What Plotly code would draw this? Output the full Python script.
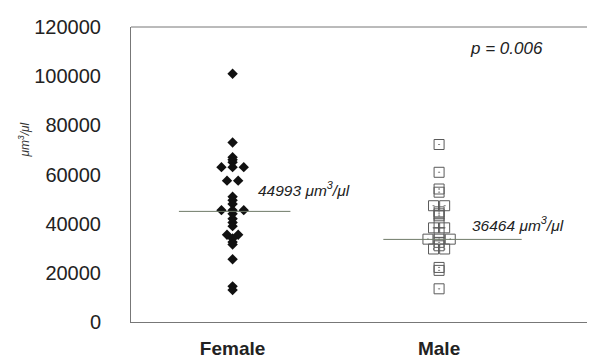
import plotly.graph_objects as go
from collections import Counter

# ---- data ----
categories = ["Female", "Male"]
female_values = [101000, 73000, 67000, 66000, 65000, 63000, 63000, 63000,
                 57500, 57500, 51000, 49500, 48000, 45500, 45500, 45500,
                 44000, 42000, 40500, 39000, 35500, 35500, 34000, 32500,
                 31500, 25500, 14500, 13000]
male_values = [72200, 60900, 54100, 52800, 47300, 47300, 44800, 44000,
               43200, 40300, 38300, 38300, 36300, 33700, 33700, 33700,
               32400, 29700, 29700, 31000, 22200, 21000, 13500]
level_lines = [44993, 33600]
level_labels = ["44993 μm<sup>3</sup>/μl", "36464 μm<sup>3</sup>/μl"]
p_text = "p = 0.006"
y_ticks = [0, 20000, 40000, 60000, 80000, 100000, 120000]

FONT = "Liberation Sans, Arial, sans-serif"
STEP = 0.054  # horizontal spacing of identical values (axis units)


def swarm_x(center, values):
    counts = Counter(values)
    seen = Counter()
    xs = []
    for v in values:
        n = counts[v]
        i = seen[v]
        seen[v] += 1
        xs.append(center + (i - (n - 1) / 2) * STEP)
    return xs


fig = go.Figure()

fig.add_trace(go.Scatter(
    x=swarm_x(1, female_values), y=female_values, mode="markers",
    marker=dict(symbol="diamond", size=8, color="#111111",
                line=dict(width=0)),
    showlegend=False, hoverinfo="y"))

fig.add_trace(go.Scatter(
    x=swarm_x(2, male_values), y=male_values, mode="markers",
    marker=dict(symbol="square-open-dot", size=10, color="#5a5a5a",
                line=dict(width=1, color="#5a5a5a")),
    showlegend=False, hoverinfo="y"))

# horizontal level lines
line_extent = [(-0.26, 0.28), (-0.27, 0.40)]
for k, (lv, (a, b)) in enumerate(zip(level_lines, line_extent)):
    fig.add_trace(go.Scatter(
        x=[k + 1 + a, k + 1 + b], y=[lv, lv], mode="lines",
        line=dict(color="#6f7a68", width=1), showlegend=False,
        hoverinfo="skip"))

# level labels
label_pos = [(1.115, 54000), (2.15, 40000)]
for txt, (lx, ly) in zip(level_labels, label_pos):
    fig.add_annotation(x=lx, y=ly, xref="x", yref="y", text="<i>" + txt + "</i>",
                       showarrow=False, xanchor="left", yanchor="middle",
                       font=dict(family=FONT, size=15.5, color="#222222"))

fig.add_annotation(x=(468 - 131) / 464, y=(327 - 45) / 304, xref="paper", yref="paper",
                   text="<i>" + p_text + "</i>", showarrow=False,
                   xanchor="left", yanchor="middle",
                   font=dict(family=FONT, size=17, color="#222222"))

# y-axis title
fig.add_annotation(x=(24 - 131) / 464, y=(327 - 140) / 304, xref="paper", yref="paper",
                   text="<i>μm<sup>3</sup>/μl</i>", textangle=-90, showarrow=False,
                   xanchor="center", yanchor="middle",
                   font=dict(family=FONT, size=12, color="#333333"))

# top frame line
fig.add_shape(type="line", xref="paper", yref="paper", x0=0, x1=1, y0=1, y1=1,
              line=dict(color="#777777", width=1))

# the page body adds an 8px offset; margins compensate for it
fig.update_layout(
    width=595, height=359,
    margin=dict(l=123, r=8, t=15, b=40),
    paper_bgcolor="white", plot_bgcolor="white",
    font=dict(family=FONT, color="#222222"),
    xaxis=dict(range=[0.508, 2.755], tickvals=[1, 2], ticktext=categories,
               showgrid=False, zeroline=False, showline=True,
               linecolor="#777777", linewidth=1,
               ticks="outside", ticklen=9, tickcolor="rgba(0,0,0,0)",
               tickfont=dict(family=FONT, size=19, color="#222222", weight="bold")),
    yaxis=dict(range=[0, 120000], tickvals=y_ticks, tickformat="d",
               showgrid=False, zeroline=False, showline=True,
               linecolor="#777777", linewidth=1,
               ticks="outside", ticklen=25, tickcolor="rgba(0,0,0,0)",
               tickfont=dict(family=FONT, size=20, color="#222222")),
)

fig.write_html("out.html")
